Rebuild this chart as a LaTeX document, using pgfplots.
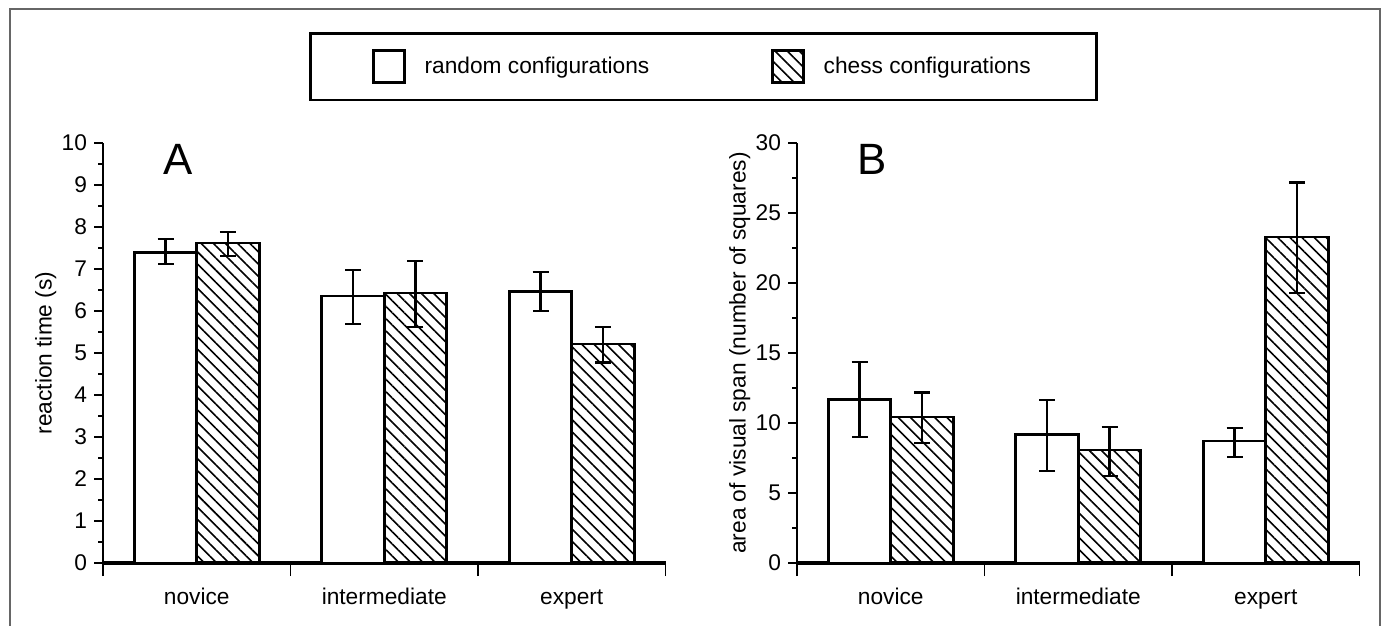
\documentclass[border=0pt]{standalone}
\usepackage{pgfplots}
\pgfplotsset{compat=1.18}
\usepackage{pgfplotstable}
\usepackage{fontspec}
\setmainfont{Liberation Sans}
\usetikzlibrary{patterns.meta}

% reaction time (s), panel A
\pgfplotstableread{
x y ep em
0 7.40 0.31 0.28
1 6.36 0.62 0.67
2 6.47 0.46 0.47
}\timerandom
\pgfplotstableread{
x y ep em
0 7.62 0.26 0.31
1 6.43 0.76 0.81
2 5.21 0.41 0.44
}\timechess
% area of visual span, panel B
\pgfplotstableread{
x y ep em
0 11.70 2.66 2.70
1 9.20 2.44 2.63
2 8.71 0.93 1.14
}\spanrandom
\pgfplotstableread{
x y ep em
0 10.43 1.77 1.86
1 8.07 1.64 1.86
2 23.29 3.91 3.99
}\spanchess

\pgfplotsset{
  panel/.style={
    width=281.25bp, height=210bp, scale only axis,
    anchor=south west,
    ymin=0, xmin=-0.5, xmax=2.5,
    axis x line*=bottom, axis y line*=left,
    x axis line style={line width=2bp},
    y axis line style={line width=0.9bp},
    tick align=outside,
    major tick length=4.5bp, minor tick length=2.5bp,
    every tick/.style={black, line width=0.9bp},
    xtick={0,1,2}, xticklabels={novice,intermediate,expert},
    x tick style={draw=none},
    extra x ticks={-0.5,0.5,1.5,2.5}, extra x tick labels={},
    extra x tick style={x tick style={draw=black, line width=0.9bp}, major tick length=6.5bp},
    xticklabel style={anchor=base, yshift=-16bp},
    minor y tick num=1,
    ybar=0pt, bar width=0.3333,
    tick label style={font=\fontsize{11.4}{13}\selectfont},
    /pgf/number format/assume math mode=true,
    label style={font=\fontsize{11.4}{13}\selectfont},
    ylabel style={at={(axis description cs:-0.102,0.5)}, anchor=center},
    clip=false,
    error bars/y dir=both, error bars/y explicit,
    error bars/error bar style={line width=1.3bp, black},
    error bars/error mark options={rotate=90, line width=1.3bp, mark size=4bp, black},
  },
  swatch/.style={legend image code/.code={%
    \draw[##1] (0bp,-8bp) rectangle (15.5bp,8bp);
    \path[draw=none, fill=none] (15.5bp,0bp) -- (23.5bp,0bp);}},
  randombar/.style={draw=black, fill=white, line width=1.3bp, swatch},
  chessbar/.style={draw=black, line width=1.3bp, swatch,
    pattern={Lines[angle=-45, distance=4.3bp, line width=0.8bp]}},
}

\begin{document}
\begin{tikzpicture}
\useasboundingbox (0,0) rectangle (693bp,-313bp);
\draw[line width=1bp, black!60] (5bp,-330bp) -- (5bp,-4.5bp) -- (690bp,-4.5bp) -- (690bp,-330bp);

\begin{axis}[panel, at={(51.5bp,-281.5bp)},
  ymax=10, ytick={0,1,...,10},
  ylabel={reaction time (s)},
  legend columns=2,
  legend cell align=left,
  legend style={at={(axis description cs:1.0676,1.1821)}, anchor=center,
    draw=black, line width=1.3bp, inner xsep=31bp, inner ysep=8bp,
    font=\fontsize{11.4}{13}\selectfont,
    /tikz/every even column/.append style={column sep=59bp}},
]
\addplot[randombar] table[x=x, y=y, y error plus=ep, y error minus=em] {\timerandom};
\addplot[chessbar] table[x=x, y=y, y error plus=ep, y error minus=em] {\timechess};
\legend{random configurations, chess configurations}
\node[font=\fontsize{22}{24}\selectfont] at (axis description cs:0.1333,0.962) {A};
\end{axis}

\begin{axis}[panel, at={(398.5bp,-281.5bp)},
  ymax=30, ytick={0,5,...,30},
  ylabel={area of visual span (number of squares)},
]
\addplot[randombar] table[x=x, y=y, y error plus=ep, y error minus=em] {\spanrandom};
\addplot[chessbar] table[x=x, y=y, y error plus=ep, y error minus=em] {\spanchess};
\node[font=\fontsize{22}{24}\selectfont] at (axis description cs:0.1333,0.962) {B};
\end{axis}
\end{tikzpicture}
\end{document}
